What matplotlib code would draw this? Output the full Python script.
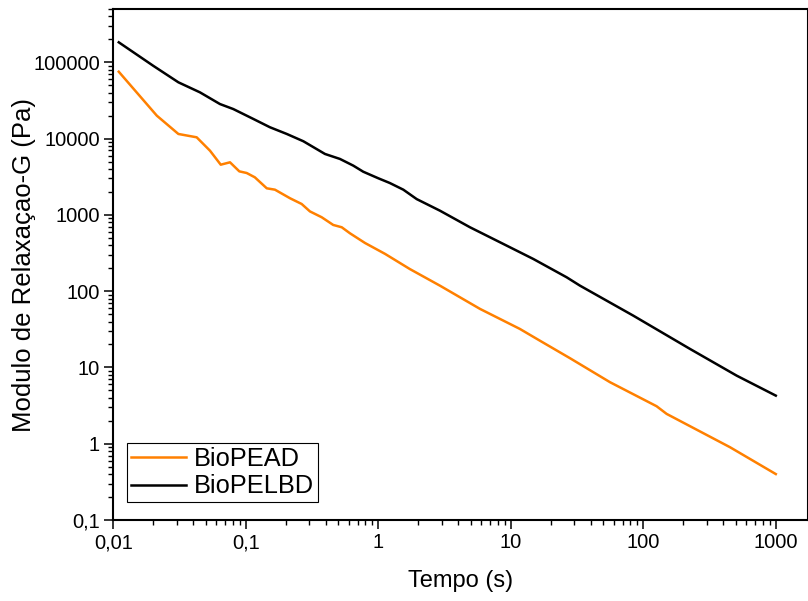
#=========================================================================
import numpy as np
import matplotlib
matplotlib.use('Agg')
import matplotlib.pyplot as plt
from matplotlib.ticker import LogLocator, NullFormatter

plt.rcParams['font.family'] = ['Liberation Sans', 'DejaVu Sans']

#=========================================================================
# data (time in s, relaxation modulus in Pa)
t_pead = [0.0110, 0.0213, 0.031, 0.0426, 0.0537, 0.0647, 0.076, 0.0894, 0.1016,
          0.117, 0.144, 0.166, 0.216, 0.264, 0.305, 0.374, 0.457, 0.530, 0.611,
          0.794, 1.125, 1.73, 2.92, 5.86, 11.7, 16.6, 28.0, 56.1, 126.0, 150.0,
          451.0, 1000.0]
g_pead = [75300, 20000, 11500, 10400, 6940, 4550, 4890, 3720, 3540,
          3110, 2230, 2140, 1650, 1390, 1110, 931, 738, 688, 574,
          428, 308, 195, 118, 58.5, 32.0, 22.4, 13.2, 6.4, 3.1, 2.46,
          0.90, 0.40]

t_pelbd = [0.0110, 0.0200, 0.031, 0.0451, 0.0638, 0.0805, 0.114, 0.152, 0.204,
           0.272, 0.396, 0.514, 0.648, 0.770, 1.0, 1.22, 1.545, 1.95, 2.92,
           4.92, 8.78, 14.8, 26.4, 33.3, 84.1, 225.0, 507.0, 1000.0]
g_pelbd = [183000, 90200, 54700, 40400, 28400, 24400, 18100, 14100, 11500,
           9230, 6290, 5410, 4420, 3680, 3020, 2620, 2140, 1610, 1135,
           688, 416, 264, 152, 118, 47.7, 17.5, 7.8, 4.27]

series_names = ['BioPEAD', 'BioPELBD']

xticks = [0.01, 0.1, 1, 10, 100, 1000]
xticklabels = ['0,01', '0,1', '1', '10', '100', '1000']
yticks = [0.1, 1, 10, 100, 1000, 10000, 100000]
yticklabels = ['0,1', '1', '10', '100', '1000', '10000', '100000']

#=========================================================================
fig = plt.figure(figsize=(8.08, 6.01), dpi=100)
ax = fig.add_axes([0.1402, 0.1348, 0.8598, 0.8502])

ax.plot(t_pead, g_pead, color='#ff8000', lw=1.8, label=series_names[0])
ax.plot(t_pelbd, g_pelbd, color='black', lw=1.8, label=series_names[1])

ax.set_xscale('log')
ax.set_yscale('log')
ax.set_xlim(0.01, 1750)
ax.set_ylim(0.1, 5.0e5)

ax.set_xticks(xticks)
ax.set_xticklabels(xticklabels)
ax.set_yticks(yticks)
ax.set_yticklabels(yticklabels)
ax.xaxis.set_minor_locator(LogLocator(base=10, subs=np.arange(2, 10)))
ax.yaxis.set_minor_locator(LogLocator(base=10, subs=np.arange(2, 10)))
ax.xaxis.set_minor_formatter(NullFormatter())
ax.yaxis.set_minor_formatter(NullFormatter())

ax.tick_params(which='major', direction='out', length=6.5, width=1.1,
               labelsize=14.5, pad=3)
ax.tick_params(which='minor', direction='out', length=3.6, width=1.0)

for sp in ax.spines.values():
  sp.set_linewidth(1.5)

ax.set_xlabel('Tempo (s)', fontsize=17, labelpad=13)
ax.set_ylabel('Modulo de Relaxaçao-G (Pa)', fontsize=18.5, labelpad=-2)

leg = ax.legend(loc='lower left', bbox_to_anchor=(0.0193, 0.0346),
                borderaxespad=0, fontsize=18.3, fancybox=False,
                edgecolor='black', framealpha=1, handlelength=2.2,
                handletextpad=0.3, labelspacing=0.15, borderpad=0.15)
leg.get_frame().set_linewidth(0.8)

plt.savefig('out.png', dpi=100)
